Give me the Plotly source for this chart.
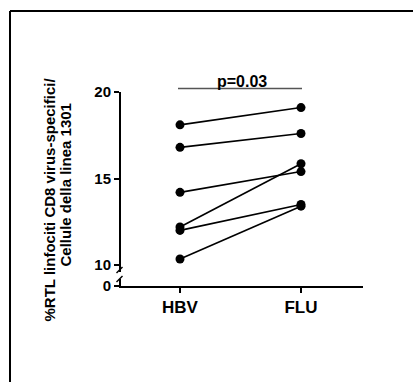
import plotly.graph_objects as go

groups = ["HBV", "FLU"]
hbv = [18.1, 16.8, 14.2, 12.2, 12.0, 10.35]
flu = [19.1, 17.6, 15.4, 15.85, 13.5, 13.4]
y_ticks = [10, 15, 20]
p_label = "p=0.03"
y_title_1 = "%RTL linfociti CD8 virus-specifici/"
y_title_2 = "Cellule della linea 1301"

W, H = 413, 382
L, R, T, B = 121, 363, 92, 286
pw, ph = R - L, B - T

def px(x):
    return (x - L) / pw

def py(y):
    return (B - y) / ph

FONT = "Liberation Sans"
fig = go.Figure()
for a, b in zip(hbv, flu):
    fig.add_trace(go.Scatter(
        x=[0, 1], y=[a, b], mode="lines+markers",
        line=dict(color="black", width=1.6),
        marker=dict(color="black", size=9),
        showlegend=False, cliponaxis=False,
    ))
# invisible trace so the lower axis segment (0) is drawn
fig.add_trace(go.Scatter(x=[0], y=[0], xaxis="x", yaxis="y2", mode="markers",
                         marker=dict(opacity=0), hoverinfo="skip", showlegend=False))

main_bottom = py(272)
axis_common = dict(showline=True, linecolor="black", linewidth=2,
                   ticks="outside", ticklen=5, tickwidth=2, tickcolor="black",
                   showgrid=False, zeroline=False)
fig.update_layout(
    width=W, height=H,
    margin=dict(l=L, r=W - R, t=T, b=H - B),
    paper_bgcolor="white", plot_bgcolor="white",
    showlegend=False,
    xaxis=dict(
        anchor="y2", range=[-59 / 121, 1 + 62 / 121],
        tickvals=[0, 1], ticktext=groups,
        tickfont=dict(family=FONT, size=17, color="black", weight="bold"),
        **axis_common,
    ),
    yaxis=dict(
        domain=[main_bottom, 1],
        range=[20 - (272 - 92) / 17.3, 20],
        tickvals=y_ticks,
        tickfont=dict(family=FONT, size=15, color="black", weight="bold"),
        **axis_common,
    ),
    yaxis2=dict(
        domain=[0, py(279)],
        range=[0, 1],
        tickvals=[0],
        tickfont=dict(family=FONT, size=15, color="black", weight="bold"),
        **axis_common,
    ),
)

shapes = []
# frame
shapes.append(dict(type="line", xref="paper", yref="paper",
                   x0=px(10), x1=px(10), y0=py(11), y1=py(400),
                   line=dict(color="black", width=2)))
shapes.append(dict(type="line", xref="paper", yref="paper",
                   x0=px(10), x1=px(420), y0=py(11), y1=py(11),
                   line=dict(color="black", width=2)))
# axis break slashes
for yy in (270, 279):
    shapes.append(dict(type="line", xref="paper", yref="paper",
                       x0=px(116.5), x1=px(122.5), y0=py(yy + 3), y1=py(yy - 3),
                       line=dict(color="black", width=1.5)))
# significance bar
shapes.append(dict(type="line", xref="paper", yref="paper",
                   x0=px(178), x1=px(302), y0=py(88.5), y1=py(88.5),
                   line=dict(color="#555555", width=1.5)))
fig.update_layout(shapes=shapes)

fig.add_annotation(xref="paper", yref="paper", x=px(242), y=py(71),
                   text=p_label, showarrow=False,
                   font=dict(family=FONT, size=16, color="black", weight="bold"))
fig.add_annotation(xref="paper", yref="paper", x=px(38), y=py(200),
                   text=y_title_1, showarrow=False, textangle=-90,
                   font=dict(family=FONT, size=15, color="black", weight="bold"))
fig.add_annotation(xref="paper", yref="paper", x=px(54), y=py(185),
                   text=y_title_2, showarrow=False, textangle=-90,
                   font=dict(family=FONT, size=15, color="black", weight="bold"))

fig.write_html("out.html")
